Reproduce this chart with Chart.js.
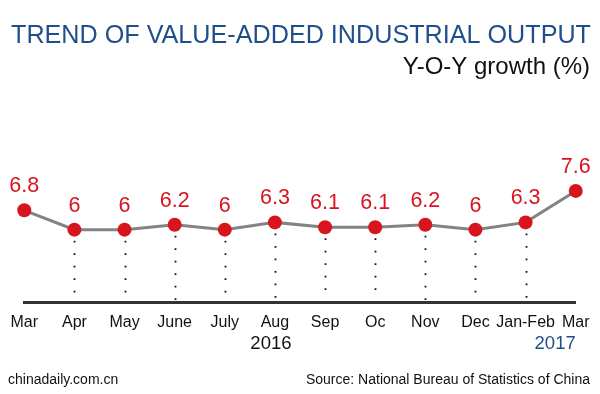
<!DOCTYPE html>
<html><head><meta charset="utf-8">
<script src="https://cdn.jsdelivr.net/npm/chart.js@4/dist/chart.umd.min.js"></script>
<style>html,body{margin:0;padding:0;background:#fff}#wrap{width:600px;height:394px;position:relative}</style>
</head><body><div id="wrap"><canvas id="c" width="600" height="394"></canvas></div>
<script>
const months = ["Mar","Apr","May","June","July","Aug","Sep","Oc","Nov","Dec","Jan-Feb","Mar"];
const growth = [6.8, 6.0, 6.0, 6.2, 6.0, 6.3, 6.1, 6.1, 6.2, 6.0, 6.3, 7.6];
const valueLabels = ["6.8","6","6","6.2","6","6.3","6.1","6.1","6.2","6","6.3","7.6"];
const yearLabels = [{text:"2016", index:5, color:"#111", align:"center", dx:-4}, {text:"2017", index:11, color:"#1f4e8c", align:"right", dx:0}];
const titleText = "TREND OF VALUE-ADDED INDUSTRIAL OUTPUT";
const subtitleText = "Y-O-Y growth (%)";
const leftNote = "chinadaily.com.cn";
const sourceNote = "Source: National Bureau of Statistics of China";

const FONT = "'Liberation Sans', Arial, sans-serif";
const RED = "#d7151f";

const deco = {
  id: 'deco',
  beforeDatasetsDraw(chart) {
    const ctx = chart.ctx;
    const meta = chart.getDatasetMeta(0);
    const bottom = chart.chartArea.bottom;
    ctx.save();
    ctx.strokeStyle = "#111";
    ctx.lineWidth = 1.8;
    ctx.setLineDash([1.8, 10.7]);
    meta.data.forEach((p, i) => {
      if (i === 0 || i === meta.data.length - 1) return;
      ctx.beginPath();
      ctx.moveTo(Math.round(p.x) + 0.5, p.y + 11);
      ctx.lineTo(Math.round(p.x) + 0.5, bottom - 2);
      ctx.stroke();
    });
    ctx.restore();
  },
  afterDatasetsDraw(chart) {
    const ctx = chart.ctx;
    const meta = chart.getDatasetMeta(0);
    ctx.save();
    ctx.fillStyle = RED;
    ctx.font = "21.5px " + FONT;
    ctx.textAlign = "center";
    ctx.textBaseline = "middle";
    meta.data.forEach((p, i) => {
      ctx.fillText(valueLabels[i], p.x, p.y - 24);
    });
    ctx.restore();
  },
  afterDraw(chart) {
    const ctx = chart.ctx;
    const xs = chart.scales.x;
    ctx.save();
    ctx.textBaseline = "alphabetic";
    ctx.fillStyle = "#1f4e8c";
    ctx.font = "26px " + FONT;
    ctx.textAlign = "left";
    ctx.fillText(titleText, 11, 43, 580);
    ctx.fillStyle = "#111";
    ctx.font = "24px " + FONT;
    ctx.textAlign = "right";
    ctx.fillText(subtitleText, 590, 74);
    ctx.font = "18.5px " + FONT;
    yearLabels.forEach(y => {
      const px = xs.getPixelForTick(y.index);
      ctx.fillStyle = y.color;
      ctx.textAlign = y.align;
      ctx.fillText(y.text, px + y.dx, 349);
    });
    ctx.fillStyle = "#111";
    ctx.font = "14px " + FONT;
    ctx.textAlign = "left";
    ctx.fillText(leftNote, 8, 384);
    ctx.textAlign = "right";
    ctx.fillText(sourceNote, 590, 384);
    ctx.restore();
  }
};

new Chart(document.getElementById('c'), {
  type: 'line',
  data: {
    labels: months,
    datasets: [{
      data: growth,
      borderColor: "#838383",
      borderWidth: 3,
      pointRadius: 7,
      pointHoverRadius: 7,
      pointBackgroundColor: RED,
      pointBorderWidth: 0,
      tension: 0,
      clip: false
    }]
  },
  options: {
    responsive: false,
    animation: false,
    events: [],
    layout: { padding: { left: 20, right: 15, top: 157, bottom: 51.5 } },
    plugins: { legend: { display: false }, tooltip: { enabled: false } },
    scales: {
      x: {
        offset: false,
        grid: { display: false, drawTicks: false, tickLength: 0 },
        border: { display: true, color: "#333", width: 3 },
        ticks: { color: "#111", font: { size: 16, family: FONT }, padding: 10.5, maxRotation: 0, autoSkip: false }
      },
      y: { display: false, min: 3, max: 9 }
    }
  },
  plugins: [deco]
});
</script></body></html>
